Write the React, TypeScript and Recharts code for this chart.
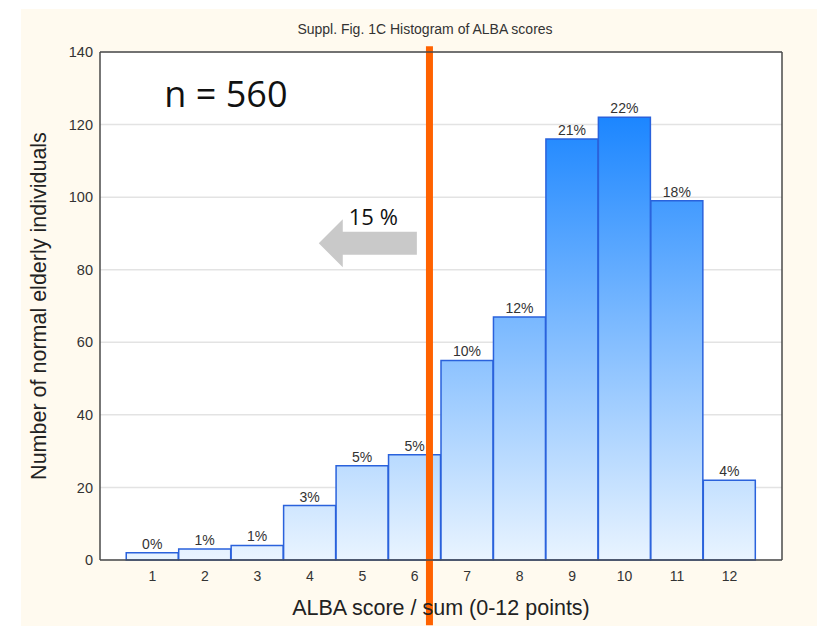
import React from "react";
import {
  BarChart,
  Bar,
  XAxis,
  YAxis,
  CartesianGrid,
  LabelList,
  ReferenceLine,
  ReferenceDot,
  Label,
} from "recharts";

const scores = [1, 2, 3, 4, 5, 6, 7, 8, 9, 10, 11, 12];
const counts = [2, 3, 4, 15, 26, 29, 55, 67, 116, 122, 99, 22];
const pctLabels = ["0%", "1%", "1%", "3%", "5%", "5%", "10%", "12%", "21%", "22%", "18%", "4%"];
const countTicks = [0, 20, 40, 60, 80, 100, 120, 140];
const pctTicks = ["0%", "4%", "7%", "11%", "14%", "18%", "21%", "25%"];
const minorTicks = [
  0, 4, 8, 12, 16, 20, 24, 28, 32, 36, 40, 44, 48, 52, 56, 60, 64, 68, 72, 76,
  80, 84, 88, 92, 96, 100, 104, 108, 112, 116, 120, 124, 128, 132, 136, 140,
];

// annotations (data coordinates)
const cutoffX = 6.28;
const cutoffSpan = [-18, 141.6];
const arrowFrom = { x: 6.04, y: 87.3 };
const arrowTo = { x: 4.17, y: 87.3 };
const arrowText = { x: 5.21, y: 92.2, text: "15 %" };
const nText = { x: 2.4, y: 124.8, text: "n = 560" };

const data = scores.map((s, i) => ({ score: s, count: counts[i], label: pctLabels[i] }));

const AXIS = "#4a4a4a";
const TXT = "#333";
const FONT = "'Liberation Sans', Arial, sans-serif";

const ArrowShape = (props: any) => {
  const { x1, y1, x2 } = props;
  if (x1 == null) return null;
  const head = 24;
  const shaft = 11.5;
  const hw = 24;
  const hx = x2 + head;
  const pts = [
    [x1, y1 - shaft],
    [hx, y1 - shaft],
    [hx, y1 - hw],
    [x2, y1],
    [hx, y1 + hw],
    [hx, y1 + shaft],
    [x1, y1 + shaft],
  ]
    .map((p) => p.join(","))
    .join(" ");
  return <polygon points={pts} fill="#c9c9c9" />;
};

const textShape = (text: string, size: number) => (props: any) => (
  <text
    x={props.cx}
    y={props.cy}
    textAnchor="middle"
    fontSize={size}
    fontFamily="'Open Sans', sans-serif"
    fill="#111"
  >
    {text}
  </text>
);

export default function App() {
  return (
    <div style={{ position: "absolute", left: 0, top: 0, width: 817, height: 626, background: "#fff" }}>
      <div style={{ position: "absolute", left: 21, top: 9, right: 0, bottom: 0, background: "#fffaef" }} />
      <div
        style={{
          position: "absolute",
          left: 21,
          right: 0,
          top: 21,
          textAlign: "center",
          fontFamily: FONT,
          fontSize: 14,
          color: TXT,
          paddingLeft: 12,
        }}
      >
        Suppl. Fig. 1C Histogram of ALBA scores
      </div>
      <div style={{ position: "absolute", left: 0, top: 0 }}>
        <BarChart
          width={817}
          height={626}
          data={data}
          margin={{ top: 52, right: 0, bottom: 0, left: 0 }}
          barCategoryGap={0}
          barGap={0}
        >
          <defs>
            <linearGradient id="barGrad" gradientUnits="userSpaceOnUse" x1="0" y1="52" x2="0" y2="560">
              <stop offset="0.12" stopColor="#1a85ff" />
              <stop offset="1" stopColor="#e9f4ff" />
            </linearGradient>
          </defs>
          <CartesianGrid vertical={false} stroke="#e3e3e3" strokeWidth={1.5} fill="#fff" />
          <XAxis
            dataKey="score"
            type="number"
            domain={[0, 13]}
            ticks={scores}
            height={66}
            tickLine={false}
            tickMargin={5}
            axisLine={{ stroke: AXIS, strokeWidth: 1.5 }}
            tick={{ fill: TXT, fontSize: 14, fontFamily: FONT }}
          >
            <Label
              value="ALBA score / sum (0-12 points)"
              position="insideBottom"
              offset={11}
              style={{ fontSize: 21.5, fontFamily: FONT, fill: "#222" }}
            />
          </XAxis>
          <XAxis
            xAxisId="top"
            orientation="top"
            type="number"
            domain={[0, 13]}
            ticks={scores}
            mirror
            tick={false}
            tickSize={4}
            tickLine={{ stroke: AXIS }}
            axisLine={{ stroke: AXIS, strokeWidth: 1.5 }}
          />
          <XAxis
            xAxisId="bottomTicks"
            orientation="bottom"
            type="number"
            domain={[0, 13]}
            ticks={scores}
            mirror
            tick={false}
            tickSize={4}
            tickLine={{ stroke: AXIS }}
            axisLine={false}
          />
          <YAxis
            domain={[0, 140]}
            ticks={countTicks}
            width={100}
            tickLine={false}
            tickMargin={1}
            axisLine={{ stroke: AXIS, strokeWidth: 1.5 }}
            tick={{ fill: TXT, fontSize: 14.5, fontFamily: FONT }}
          >
            <Label
              content={({ viewBox }: any) => (
                <text
                  x={40}
                  y={viewBox.y + viewBox.height / 2}
                  transform={`rotate(-90 40 ${viewBox.y + viewBox.height / 2})`}
                  textAnchor="middle"
                  dominantBaseline="middle"
                  fontSize={21.5}
                  fontFamily={FONT}
                  fill="#222"
                >
                  Number of normal elderly individuals
                </text>
              )}
            />
          </YAxis>
          <YAxis
            yAxisId="right"
            orientation="right"
            domain={[0, 140]}
            ticks={countTicks}
            tickFormatter={(v: number) => pctTicks[countTicks.indexOf(v)]}
            width={35}
            tickLine={false}
            tickMargin={2}
            axisLine={{ stroke: AXIS, strokeWidth: 1.5 }}
            tick={{ fill: TXT, fontSize: 14, fontFamily: FONT, textAnchor: "start" }}
          />
          <YAxis
            yAxisId="rightMinor"
            orientation="right"
            domain={[0, 140]}
            ticks={minorTicks}
            mirror
            tick={false}
            tickSize={3}
            tickLine={{ stroke: AXIS }}
            axisLine={false}
          />
          <Bar
            dataKey="count"
            fill="url(#barGrad)"
            stroke="#2a62dc"
            strokeWidth={1.5}
            isAnimationActive={false}
          >
            <LabelList
              dataKey="label"
              position="top"
              offset={4}
              style={{ fill: TXT, fontSize: 14, fontFamily: FONT }}
            />
          </Bar>
          <ReferenceLine
            segment={[arrowFrom, arrowTo]}
            ifOverflow="visible"
            shape={ArrowShape}
          />
          <ReferenceDot
            x={arrowText.x}
            y={arrowText.y}
            r={0}
            ifOverflow="visible"
            shape={textShape(arrowText.text, 22)}
          />
          <ReferenceDot
            x={nText.x}
            y={nText.y}
            r={0}
            ifOverflow="visible"
            shape={textShape(nText.text, 36)}
          />
          <ReferenceLine
            segment={[
              { x: cutoffX, y: cutoffSpan[0] },
              { x: cutoffX, y: cutoffSpan[1] },
            ]}
            ifOverflow="visible"
            stroke="#ff6200"
            strokeWidth={7}
          />
        </BarChart>
      </div>
    </div>
  );
}
